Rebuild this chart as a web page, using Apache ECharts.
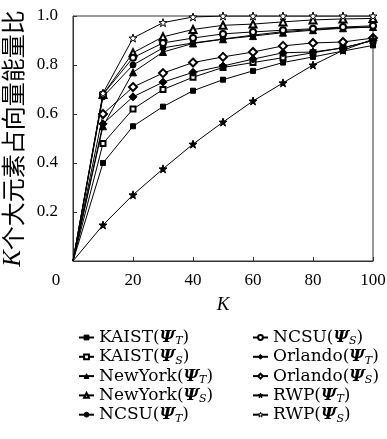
<!DOCTYPE html>
<html>
<head>
<meta charset="utf-8">
<script src="https://cdn.jsdelivr.net/npm/echarts@6/dist/echarts.min.js"></script>
<style>
  html, body { margin: 0; padding: 0; background: #fff; }
  #main { width: 387px; height: 439px; }
</style>
</head>
<body>
<div id="main"></div>
<script>
// K 取值
const kValues = [0, 10, 20, 30, 40, 50, 60, 70, 80, 90, 100]
// 各数据集能量比
const kaistT = [0, 0.40, 0.55, 0.63, 0.695, 0.74, 0.776, 0.81, 0.833, 0.857, 0.88]
const kaistS = [0, 0.48, 0.62, 0.70, 0.75, 0.79, 0.81, 0.83, 0.85, 0.87, 0.90]
const newyorkT = [0, 0.55, 0.77, 0.853, 0.888, 0.905, 0.918, 0.932, 0.942, 0.95, 0.955]
const newyorkS = [0, 0.68, 0.85, 0.915, 0.945, 0.962, 0.967, 0.976, 0.984, 0.988, 0.99]
const ncsuT = [0, 0.67, 0.80, 0.87, 0.89, 0.906, 0.922, 0.936, 0.945, 0.952, 0.955]
const ncsuS = [0, 0.68, 0.83, 0.89, 0.91, 0.927, 0.935, 0.942, 0.948, 0.955, 0.96]
const orlandoT = [0, 0.56, 0.67, 0.73, 0.77, 0.796, 0.824, 0.85, 0.853, 0.87, 0.90]
const orlandoS = [0, 0.60, 0.71, 0.767, 0.81, 0.833, 0.853, 0.878, 0.89, 0.894, 0.91]
const rwpT = [0, 0.147, 0.27, 0.376, 0.477, 0.567, 0.653, 0.727, 0.80, 0.86, 0.905]
const rwpS = [0, 0.685, 0.91, 0.973, 0.996, 1.0, 1.0, 1.0, 1.0, 1.0, 1.0]
// 坐标刻度
const xTicks = [0, 20, 40, 60, 80, 100]
const yTicks = [0, 0.2, 0.4, 0.6, 0.8, 1.0]

const starPath = 'path://M0,-10L2.35,-3.24L9.51,-3.09L3.8,1.24L5.88,8.09L0,4L-5.88,8.09L-3.8,1.24L-9.51,-3.09L-2.35,-3.24Z'
const serif = '"Liberation Serif", "DejaVu Serif", serif'
const wideSerif = '"DejaVu Serif", "Liberation Serif", serif'

const seriesDefs = [
  { name: 'KAIST_T', label: 'KAIST', sub: 'T', data: kaistT, symbol: 'rect', size: 5 },
  { name: 'KAIST_S', label: 'KAIST', sub: 'S', data: kaistS, symbol: 'emptyRect', size: 5 },
  { name: 'NewYork_T', label: 'NewYork', sub: 'T', data: newyorkT, symbol: 'triangle', size: 7 },
  { name: 'NewYork_S', label: 'NewYork', sub: 'S', data: newyorkS, symbol: 'emptyTriangle', size: 7 },
  { name: 'NCSU_T', label: 'NCSU', sub: 'T', data: ncsuT, symbol: 'circle', size: 6 },
  { name: 'NCSU_S', label: 'NCSU', sub: 'S', data: ncsuS, symbol: 'emptyCircle', size: 6 },
  { name: 'Orlando_T', label: 'Orlando', sub: 'T', data: orlandoT, symbol: 'diamond', size: 8 },
  { name: 'Orlando_S', label: 'Orlando', sub: 'S', data: orlandoS, symbol: 'emptyDiamond', size: 8 },
  { name: 'RWP_T', label: 'RWP', sub: 'T', data: rwpT, symbol: starPath, size: 8 },
  { name: 'RWP_S', label: 'RWP', sub: 'S', data: rwpS, symbol: starPath, size: 8, hollow: true }
]

const labelMap = {}
seriesDefs.forEach(d => { labelMap[d.name] = d })

const chart = echarts.init(document.getElementById('main'))

const fillStyle = d => (d.hollow
  ? { color: '#fff', borderColor: '#000', borderWidth: 1 }
  : { color: '#000', borderColor: '#000', borderWidth: 1 })

const legendText = {
  fontFamily: wideSerif,
  fontSize: 17,
  color: '#000',
  rich: {
    n: { fontFamily: wideSerif, fontSize: 17, color: '#000', lineHeight: 19 },
    p: { fontFamily: wideSerif, fontSize: 17, fontWeight: 'bold', fontStyle: 'italic', color: '#000', lineHeight: 19 },
    s: { fontFamily: wideSerif, fontSize: 11, fontStyle: 'italic', color: '#000', verticalAlign: 'bottom', lineHeight: 19 }
  }
}
const legendFmt = name => {
  const d = labelMap[name]
  return '{n|' + d.label + '(}{p|Ψ}{s|' + d.sub + '}{n|)}'
}
const legendData = list => list.map(d => ({ name: d.name, itemStyle: fillStyle(d) }))

const option = {
  animation: false,
  backgroundColor: '#fff',
  grid: {
    left: 73, right: 14, top: 16, bottom: 178,
    outerBoundsMode: 'none',
    show: true, borderColor: '#333', borderWidth: 1
  },
  xAxis: {
    type: 'value', min: 0, max: 100, interval: 20,
    name: 'K', nameLocation: 'middle', nameGap: 34,
    nameTextStyle: { fontFamily: serif, fontSize: 19, fontStyle: 'italic', color: '#000' },
    axisLine: { lineStyle: { color: '#333', width: 1 } },
    axisTick: { inside: true, length: 4, lineStyle: { color: '#333' } },
    splitLine: { show: false },
    axisLabel: {
      margin: 11, fontFamily: serif, fontSize: 17, color: '#000',
      showMinLabel: true, hideOverlap: false,
      formatter: v => (v === 0 ? '{z|0}' : String(v)),
      rich: { z: { fontFamily: serif, fontSize: 17, color: '#000', padding: [0, 34, 0, 0] } }
    }
  },
  yAxis: {
    type: 'value', min: 0, max: 1, interval: 0.2,
    name: '{i|K}个大元素占向量能量比', nameLocation: 'middle', nameGap: 44, nameRotate: 90,
    nameTextStyle: {
      fontFamily: '"Noto Sans CJK SC"', fontSize: 24, color: '#000',
      rich: { i: { fontFamily: serif, fontStyle: 'italic', fontSize: 25, color: '#000' } }
    },
    axisLine: { show: true, lineStyle: { color: '#333', width: 1 } },
    axisTick: { show: true, inside: true, length: 4, lineStyle: { color: '#333' } },
    splitLine: { show: false },
    axisLabel: {
      margin: 15, fontFamily: serif, fontSize: 17, color: '#000',
      formatter: v => (v === 0 ? '' : v.toFixed(1))
    }
  },
  legend: [
    {
      orient: 'vertical', left: 78, top: 329, padding: 0, itemWidth: 15, itemHeight: 6, itemGap: 1.3,
      data: legendData(seriesDefs.slice(0, 5)),
      formatter: legendFmt, textStyle: legendText
    },
    {
      orient: 'vertical', left: 252, top: 329, padding: 0, itemWidth: 15, itemHeight: 6, itemGap: 1.3,
      data: legendData(seriesDefs.slice(5)),
      formatter: legendFmt, textStyle: legendText
    }
  ],
  series: seriesDefs.map(d => ({
    name: d.name,
    type: 'line',
    symbol: d.symbol,
    symbolSize: d.size,
    showAllSymbol: true,
    // 原点不画标记
    data: kValues.map((k, i) => (k === 0
      ? { value: [k, d.data[i]], symbol: 'none' }
      : [k, d.data[i]])),
    lineStyle: { color: '#000', width: 1 },
    itemStyle: fillStyle(d),
    emphasis: { disabled: true }
  }))
}

chart.setOption(option)
</script>
</body>
</html>
